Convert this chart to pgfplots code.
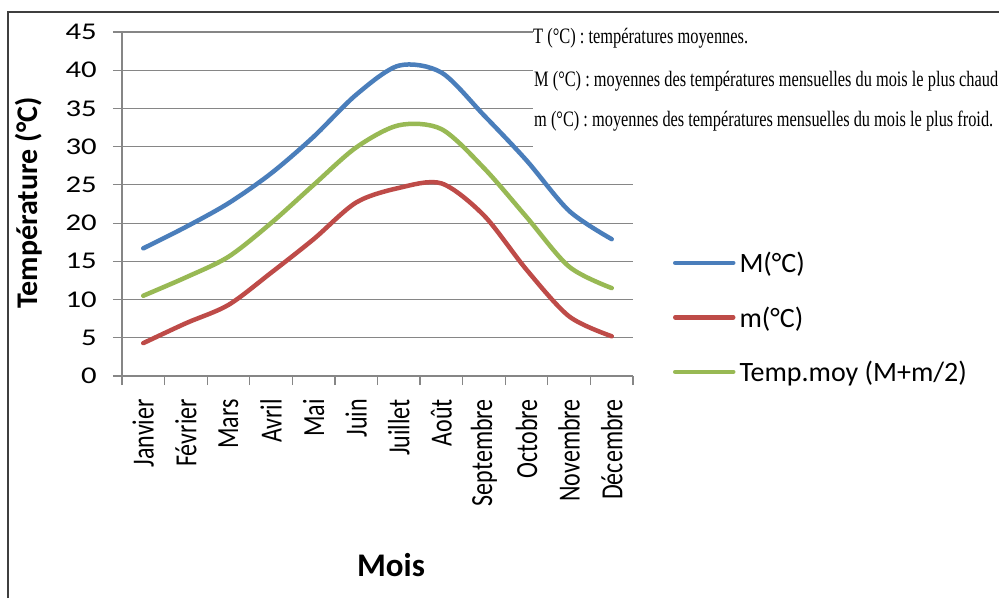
\documentclass[border=0pt]{standalone}
\usepackage{pgfplots}
\pgfplotsset{compat=1.18}
\usepackage{fontspec}
\setmainfont{Carlito}
\newfontfamily\tickfont[FakeStretch=1.28]{Carlito}
\newfontfamily\timesfont{Liberation Serif}
\usepackage{graphicx}
\newcommand\vs[1]{\scalebox{1}[1.28]{#1}}
\definecolor{mblue}{HTML}{4A7EBB}
\definecolor{mred}{HTML}{BE4B48}
\definecolor{mgreen}{HTML}{98B954}
\definecolor{gridgray}{HTML}{868686}
\definecolor{framegray}{HTML}{3F3F3F}
\begin{document}
\begin{tikzpicture}[x=1pt,y=1pt]
\useasboundingbox (0,0) rectangle (999,598);
\fill[white] (0,0) rectangle (999,598);
\draw[framegray, line width=2pt] (8,0) -- (8,586) -- (999,586);
\begin{axis}[
  at={(122pt,222pt)}, anchor=south west,
  scale only axis, width=511pt, height=344pt,
  xmin=-0.5, xmax=11.5, ymin=0, ymax=45,
  axis x line*=bottom, axis y line*=left,
  axis line style={gridgray, line width=1.2pt, -},
  ytick={0,5,...,45},
  xtick={0,...,11},
  xticklabels={\vs{Janvier},\vs{Février},\vs{Mars},\vs{Avril},\vs{Mai},\vs{Juin},\vs{Juillet},\vs{Août},\vs{Septembre},\vs{Octobre},\vs{Novembre},\vs{Décembre}},
  minor xtick={-0.5,0.5,...,11.5},
  minor ytick={0,5,...,45},
  major tick length=0pt, minor tick length=9pt,
  tick align=outside,
  tick style={gridgray, line width=1.2pt},
  ymajorgrids, grid style={gridgray, line width=1.2pt},
  /pgf/number format/assume math mode=true,
  yticklabel style={font=\tickfont\fontsize{24}{24}\selectfont, anchor=east, xshift=-25pt, inner sep=0pt},
  xticklabel style={font=\fontsize{24}{24}\selectfont, yshift=-23pt, rotate=90, anchor=east, inner sep=0pt},
  legend style={draw=none, fill=none, at={(axis description cs:1.072,0.160)}, anchor=west,
    font=\fontsize{28}{28}\selectfont, row sep=28pt, column sep=4pt,
    nodes={inner sep=0pt, text height=19.5pt, text depth=7pt}},
  legend cell align=left,
  legend image code/.code={\draw[#1] (0pt,3.7pt) -- (58pt,3.7pt);},
  every axis plot/.append style={line width=4.5pt, line cap=round, line join=round, smooth, tension=0.5},
]
\addplot[mblue] coordinates {(0,16.7) (1,19.5) (2,22.6) (3,26.5) (4,31.3) (5,36.8) (6,40.6) (7,39.7) (8,34.1) (9,28.2) (10,21.6) (11,17.9)};
\addlegendentry{M(°C)}
\addplot[mred] coordinates {(0,4.3) (1,6.9) (2,9.3) (3,13.5) (4,17.9) (5,22.7) (6,24.6) (7,25.2) (8,21.0) (9,13.9) (10,7.8) (11,5.2)};
\addlegendentry{m(°C)}
\addplot[mgreen] coordinates {(0,10.5) (1,12.9) (2,15.6) (3,20.0) (4,25.0) (5,29.9) (6,32.8) (7,32.3) (8,27.2) (9,20.8) (10,14.3) (11,11.5)};
\addlegendentry{Temp.moy (M+m/2)}
\end{axis}
\fill[white] (533,443) rectangle (999,584);
\node[anchor=base west, inner sep=0pt] at (533,554.5) {\resizebox{215pt}{\height}{\timesfont\fontsize{22}{22}\selectfont T (°C) : températures moyennes.}};
\node[anchor=base west, inner sep=0pt] at (534,511.3) {\resizebox{464pt}{\height}{\timesfont\fontsize{22}{22}\selectfont M (°C) : moyennes des températures mensuelles du mois le plus chaud}};
\node[anchor=base west, inner sep=0pt] at (534,471.3) {\resizebox{459pt}{\height}{\timesfont\fontsize{22}{22}\selectfont m (°C) : moyennes des températures mensuelles du mois le plus froid.}};
\node[rotate=90, anchor=base, inner sep=0pt] at (37,395) {\fontsize{30}{30}\selectfont\bfseries Température (°C)};
\node[anchor=base, inner sep=0pt] at (391,22) {\fontsize{33}{33}\selectfont\bfseries Mois};
\end{tikzpicture}
\end{document}
